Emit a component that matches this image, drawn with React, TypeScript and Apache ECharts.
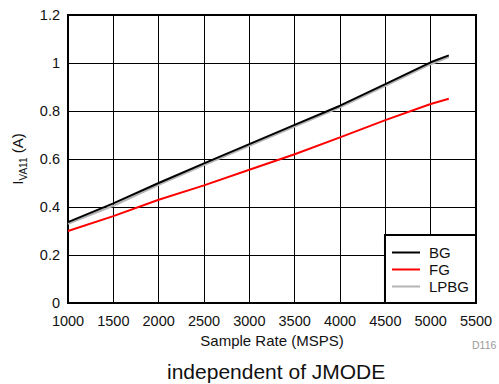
import React, { useEffect, useRef } from "react";
import * as echarts from "echarts";

const sampleRates = [1000, 1500, 2000, 2500, 3000, 3500, 4000, 4500, 5000, 5200];
const bgValues = [0.337, 0.415, 0.5, 0.582, 0.662, 0.742, 0.822, 0.912, 1.003, 1.032];
const fgValues = [0.3, 0.362, 0.43, 0.49, 0.555, 0.62, 0.69, 0.762, 0.829, 0.851];
const lpbgValues = [0.33, 0.405, 0.492, 0.575, 0.655, 0.735, 0.815, 0.905, 0.995, 1.025];

const pair = (vals: number[]) => sampleRates.map((x, i) => [x, vals[i]]);

const FONT = "'Liberation Sans', Arial, Helvetica, sans-serif";
const LINE_ICON = "path://M0,0 L28,0 L28,2 L0,2 Z";

export default function App() {
  const ref = useRef<HTMLDivElement>(null);
  useEffect(() => {
    if (!ref.current) return;
    const chart = echarts.init(ref.current, null, { renderer: "svg" });
    chart.setOption({
      animation: false,
      textStyle: { fontFamily: FONT },
      grid: { left: 68, top: 15, right: 23, bottom: 81, show: true, borderColor: "#000", borderWidth: 2 },
      xAxis: {
        type: "value",
        min: 1000,
        max: 5500,
        interval: 500,
        name: "Sample Rate (MSPS)",
        nameLocation: "middle",
        nameGap: 27,
        nameTextStyle: { fontSize: 15, color: "#111", fontFamily: FONT },
        axisLine: { show: true, lineStyle: { color: "#000", width: 2 } },
        axisTick: { show: false },
        axisLabel: { fontSize: 14.5, color: "#111", margin: 10, fontFamily: FONT, formatter: (v: number) => String(v) },
        splitLine: { show: true, lineStyle: { color: "#000", width: 1 } },
      },
      yAxis: {
        type: "value",
        min: 0,
        max: 1.2,
        interval: 0.2,
        name: "{a|I}{b|VA11}{a| (A)}",
        nameLocation: "middle",
        nameGap: 42,
        nameTextStyle: {
          color: "#111",
          rich: {
            a: { fontSize: 15, color: "#111", fontFamily: FONT, lineHeight: 20, verticalAlign: "bottom" },
            b: { fontSize: 10, color: "#111", fontFamily: FONT, lineHeight: 14, verticalAlign: "bottom", padding: [0, 0, -4, 0] },
          },
        },
        axisLine: { show: true, lineStyle: { color: "#000", width: 2 } },
        axisTick: { show: false },
        axisLabel: { fontSize: 14.5, color: "#111", margin: 8, fontFamily: FONT },
        splitLine: { show: true, lineStyle: { color: "#000", width: 1 } },
      },
      legend: {
        data: ["BG", "FG", "LPBG"],
        orient: "vertical",
        right: 23,
        bottom: 81,
        backgroundColor: "#fff",
        borderColor: "#000",
        borderWidth: 2,
        borderRadius: 0,
        padding: [9, 7, 8, 7],
        itemGap: 0,
        itemWidth: 28,
        itemHeight: 2,
        icon: LINE_ICON,
        textStyle: { fontSize: 15, color: "#111", fontFamily: FONT, lineHeight: 17, padding: [0, 0, 0, 4] },
      },
      series: [
        {
          name: "LPBG",
          type: "line",
          data: pair(lpbgValues),
          showSymbol: false,
          symbol: "none",
          lineStyle: { color: "#b4b4b4", width: 2 },
          itemStyle: { color: "#b4b4b4" },
        },
        {
          name: "BG",
          type: "line",
          data: pair(bgValues),
          showSymbol: false,
          symbol: "none",
          lineStyle: { color: "#000", width: 2 },
          itemStyle: { color: "#000" },
        },
        {
          name: "FG",
          type: "line",
          data: pair(fgValues),
          showSymbol: false,
          symbol: "none",
          lineStyle: { color: "#ff0000", width: 2 },
          itemStyle: { color: "#ff0000" },
        },
      ],
      graphic: [
        {
          type: "text",
          left: 472,
          top: 339,
          style: { text: "D116", fontSize: 10.5, fill: "#999", fontFamily: FONT },
        },
        {
          type: "text",
          left: 167,
          top: 361,
          style: { text: "independent of JMODE", fontSize: 21, fill: "#111", fontFamily: FONT },
        },
      ],
    });
    return () => chart.dispose();
  }, []);
  return <div ref={ref} style={{ width: 499, height: 384, position: "absolute", left: 0, top: 0 }} />;
}
